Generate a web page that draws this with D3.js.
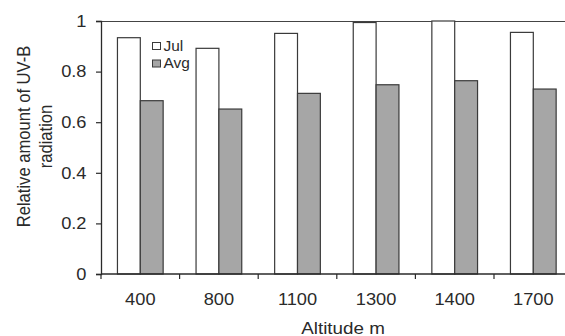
<!DOCTYPE html>
<html><head><meta charset="utf-8">
<script src="https://cdn.jsdelivr.net/npm/d3@7"></script>
<style>
html,body{margin:0;padding:0;background:#fff;}
svg{display:block;font-family:"Liberation Sans",Arial,sans-serif;}
</style></head>
<body>
<svg id="c" width="565" height="336"></svg>
<script>
const categories = ["400","800","1100","1300","1400","1700"];
const seriesNames = ["Jul","Avg"];
const julValues = [0.934, 0.892, 0.951, 0.994, 1.0, 0.955];
const avgValues = [0.685, 0.652, 0.714, 0.748, 0.764, 0.731];
const yTicks = [0, 0.2, 0.4, 0.6, 0.8, 1];
const yTickLabels = ["0","0.2","0.4","0.6","0.8","1"];
const xTitle = "Altitude m";
const yTitleLines = ["Relative amount of UV-B","radiation"];

const svg = d3.select("#c");
const L = 101, R = 572.6, T = 21, B = 274;
const SX = 1.12; // horizontal stretch of text seen in the reference
const x = d3.scaleBand().domain(categories).range([L, R]).padding(0);
const xs = d3.scaleBand().domain(seriesNames).range([0, x.bandwidth()]).paddingInner(0).paddingOuter(0.72);
const y = d3.scaleLinear().domain([0, 1]).range([B, T]);
const fills = {Jul: "#ffffff", Avg: "#a6a6a6"};
const axisColor = "#2a2a2a";
const textColor = "#2a2a2a";

function label(parent, tx, ty, str, size, anchor) {
  return parent.append("text")
    .attr("transform", `translate(${tx},${ty}) scale(${SX},1)`)
    .attr("text-anchor", anchor || "start")
    .attr("font-size", size)
    .attr("fill", textColor)
    .text(str);
}

// plot area top border
svg.append("line").attr("x1", L).attr("x2", R).attr("y1", T + 0.5).attr("y2", T + 0.5)
  .attr("stroke", "#444").attr("stroke-width", 1.2);

const data = categories.map((c, i) => ({c, Jul: julValues[i], Avg: avgValues[i]}));
const g = svg.append("g");
data.forEach(d => {
  seriesNames.forEach(s => {
    g.append("rect")
      .attr("x", x(d.c) + xs(s))
      .attr("y", y(d[s]))
      .attr("width", xs.bandwidth())
      .attr("height", B - y(d[s]))
      .attr("fill", fills[s])
      .attr("stroke", "#3a3a3a")
      .attr("stroke-width", 1.2);
  });
});

// y axis
const yAxis = d3.axisLeft(y).tickValues(yTicks).tickFormat(() => "").tickSize(5);
const ya = svg.append("g").attr("transform", `translate(${L},0)`).call(yAxis);
ya.select(".domain").attr("stroke", axisColor).attr("stroke-width", 1.3);
ya.selectAll(".tick line").attr("stroke", axisColor).attr("stroke-width", 1.2);
ya.selectAll(".tick text").remove();
yTicks.forEach((v, i) => {
  label(svg, 86.5, y(v) + 5.8, yTickLabels[i], 16.3, "end");
});

// x axis: baseline + ticks at band boundaries
const xa = svg.append("g").attr("transform", `translate(0,${B})`);
xa.append("line").attr("x1", L).attr("x2", R).attr("stroke", axisColor).attr("stroke-width", 1.3);
const bounds = categories.map(c => x(c)).concat([R]);
xa.selectAll("line.tk").data(bounds).enter().append("line").attr("class", "tk")
  .attr("x1", d => d).attr("x2", d => d).attr("y1", 0).attr("y2", 5)
  .attr("stroke", axisColor).attr("stroke-width", 1.2);
categories.forEach(c => {
  label(svg, x(c) + x.bandwidth() / 2, B + 31, c, 16.3, "middle");
});

// x title
label(svg, 343, 333.5, xTitle, 16.8, "middle");

// y title
const yt = svg.append("text")
  .attr("transform", `translate(30,136.5) scale(${SX},1) rotate(-90)`)
  .attr("text-anchor", "middle").attr("font-size", 16.6).attr("fill", textColor);
yTitleLines.forEach((t, i) => {
  yt.append("tspan").attr("x", 0).attr("y", i === 0 ? 0 : 19.6).text(t);
});

// legend
const leg = svg.append("g");
seriesNames.forEach((s, i) => {
  const yy = 42.5 + i * 17.5;
  leg.append("rect").attr("x", 152.5).attr("y", yy).attr("width", 8).attr("height", 7)
    .attr("fill", fills[s]).attr("stroke", "#3a3a3a").attr("stroke-width", 1);
  label(leg, 163.5, yy + 8, s, 13.8, "start");
});
</script>
</body></html>
